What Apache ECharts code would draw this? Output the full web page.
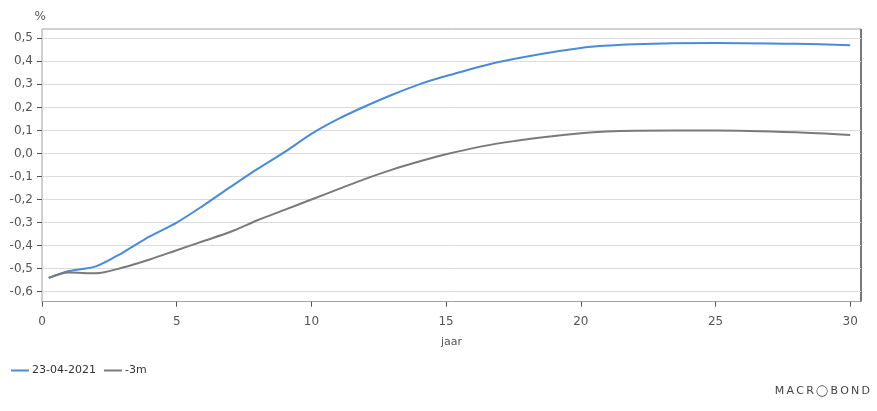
<!DOCTYPE html>
<html><head><meta charset="utf-8">
<script src="https://cdn.jsdelivr.net/npm/echarts@6/dist/echarts.min.js"></script>
<style>html,body{margin:0;padding:0;background:#fff}#c{width:877px;height:411px}</style>
</head><body><div id="c"></div>
<script>
const years = [0.25, 1, 2, 3, 4, 5, 6, 7, 8, 9, 10, 11, 12, 13, 14, 15, 17, 20, 22, 25, 28, 30];
const current = [-0.54, -0.51, -0.49, -0.43, -0.36, -0.30, -0.225, -0.145, -0.067, 0.006, 0.085, 0.15, 0.205, 0.255, 0.30, 0.336, 0.398, 0.458, 0.474, 0.48, 0.476, 0.47];
const prev3m = [-0.54, -0.517, -0.52, -0.495, -0.46, -0.42, -0.38, -0.34, -0.29, -0.245, -0.20, -0.155, -0.11, -0.07, -0.035, -0.003, 0.045, 0.088, 0.099, 0.10, 0.092, 0.08];
const yTicks = [-0.6, 0.5];
const seriesNames = ['23-04-2021', '-3m'];

const chart = echarts.init(document.getElementById('c'));
const font = 'DejaVu Sans';
chart.setOption({
  animation: false,
  textStyle: {fontFamily: font},
  grid: [
    {left: 42, right: 16, top: 38.3, bottom: 119.3},
    {left: 42, right: 16, top: 29, bottom: 109.5, show: true, borderColor: '#a0a0a0', borderWidth: 1, backgroundColor: 'transparent'}
  ],
  xAxis: [
    {type: 'value', gridIndex: 0, min: 0, max: 30.4, interval: 5, offset: 10,
     axisLine: {show: false, onZero: false},
     axisTick: {show: true, length: 5, lineStyle: {color: '#555'}},
     axisLabel: {showMaxLabel: false, color: '#555', fontSize: 12, margin: 14},
     splitLine: {show: false},
     name: 'jaar', nameLocation: 'middle', nameGap: 35, nameTextStyle: {color: '#555', fontSize: 11}},
    {type: 'value', gridIndex: 1, show: false, min: 0, max: 1}
  ],
  yAxis: [
    {type: 'value', gridIndex: 0, min: yTicks[0], max: yTicks[1], interval: 0.1,
     axisLine: {show: false, onZero: false},
     axisTick: {show: true, length: 5, lineStyle: {color: '#555'}},
     axisLabel: {color: '#555', fontSize: 12, margin: 9,
       formatter: v => (Math.round(v * 10) / 10).toFixed(1).replace('.', ',')},
     splitLine: {show: true, lineStyle: {color: '#dcdcdc'}},
     name: '%', nameLocation: 'end', nameGap: 15, nameTextStyle: {color: '#555', fontSize: 12, align: 'right', padding: [0, -4, 0, 0]}},
    {type: 'value', gridIndex: 1, show: false, min: 0, max: 1}
  ],
  legend: {
    left: 6, top: 360, itemWidth: 18, itemHeight: 2, itemGap: 8,
    icon: 'rect',
    textStyle: {color: '#333', fontSize: 11, padding: [0, 0, 0, -2]},
    data: seriesNames
  },
  graphic: [
    {type: 'line', shape: {x1: 861, y1: 29, x2: 861, y2: 301.5}, style: {stroke: '#222', lineWidth: 1}},
    {type: 'text', right: 7, top: 386, style: {text: 'M\u2009A\u2009C\u2009R\u2009◯\u2009B\u2009O\u2009N\u2009D', fill: '#444', fontSize: 11, fontFamily: 'DejaVu Sans'}}
  ],
  series: [
    {name: seriesNames[0], type: 'line', xAxisIndex: 0, yAxisIndex: 0, smooth: 0.3, showSymbol: false,
     data: years.map((x, i) => [x, current[i]]), lineStyle: {width: 2, color: '#4a8ad8'}, itemStyle: {color: '#4a8ad8'}},
    {name: seriesNames[1], type: 'line', xAxisIndex: 0, yAxisIndex: 0, smooth: 0.3, showSymbol: false,
     data: years.map((x, i) => [x, prev3m[i]]), lineStyle: {width: 2, color: '#7a7a7a'}, itemStyle: {color: '#7a7a7a'}}
  ]
});
</script></body></html>
